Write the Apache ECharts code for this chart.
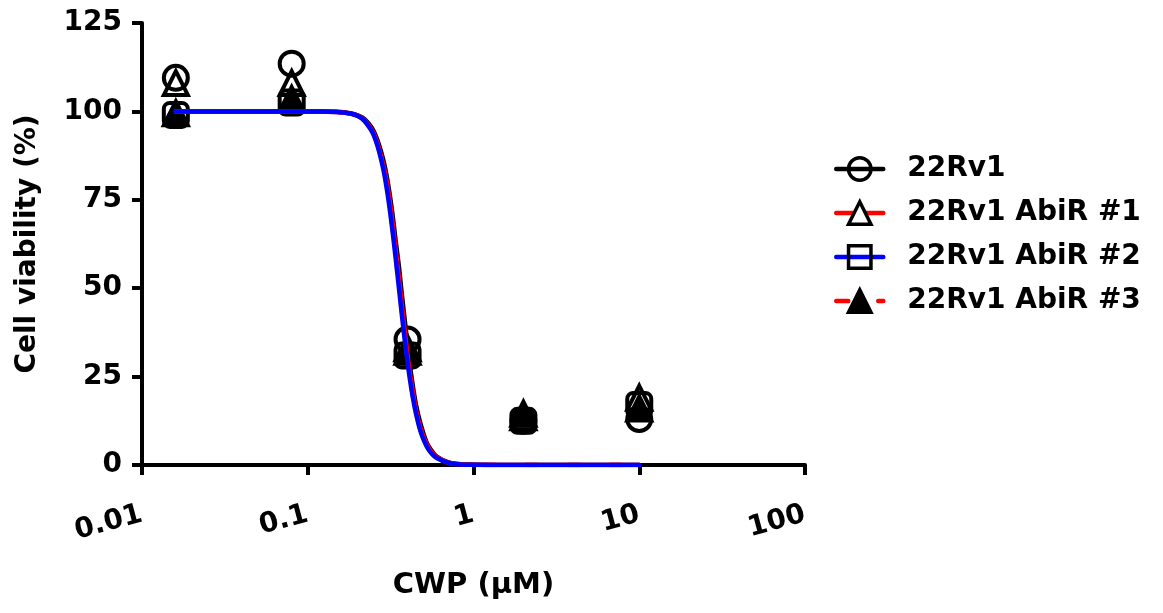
<!DOCTYPE html>
<html>
<head>
<meta charset="utf-8">
<script src="https://cdn.jsdelivr.net/npm/echarts@6/dist/echarts.min.js"></script>
<style>
  html, body { margin: 0; padding: 0; background: #fff; }
  #chart { width: 1163px; height: 613px; }
</style>
</head>
<body>
<div id="chart"></div>
<script>
// 浓度 (µM) 和各细胞株的测量点
const doseX = [0.016, 0.08, 0.4, 2, 10]
const pts22Rv1 = [109.5, 113.5, 35.5, 12.5, 13]
const ptsAbiR1 = [108, 108, 33, 13.5, 19]
const ptsAbiR2 = [99, 102.5, 31, 12.5, 17]
const ptsAbiR3 = [99.5, 103.5, 32, 14.5, 16]

// 拟合曲线（从图上读出的点）
const curveX = [0.016, 0.08, 0.12, 0.15, 0.18, 0.2, 0.22, 0.25, 0.28, 0.3, 0.32, 0.34, 0.355, 0.37, 0.39, 0.41, 0.43, 0.45, 0.48, 0.52, 0.56, 0.6, 0.7, 0.8, 1, 2, 10]
const fit22Rv1 = [100, 100, 100, 99.9, 99.5, 98.9, 97.8, 94.4, 87.8, 81.5, 73, 63, 56, 48, 38.5, 29.5, 22.5, 17, 11.5, 6.5, 4, 2.4, 0.8, 0.3, 0.1, 0, 0]
const fitAbiR1 = [100, 100, 100, 99.8, 99.4, 98.8, 97.5, 93.8, 86.5, 80, 71, 60.5, 53, 45, 35.5, 27, 21, 15.5, 10.3, 6, 3.6, 2.2, 0.7, 0.25, 0.05, 0, 0]
const fitAbiR2 = [100, 100, 100, 99.8, 99.4, 98.7, 97.3, 93.3, 85.5, 78, 68.5, 58, 50, 42.3, 33, 25.3, 19.2, 14.5, 9.4, 5.4, 3.2, 2, 0.65, 0.22, 0.04, 0, 0]
const fitAbiR3 = [100, 100, 100, 99.8, 99.4, 98.7, 97.4, 93.5, 86, 79, 69.5, 59, 51, 43.5, 34, 26, 20, 15, 9.8, 5.7, 3.4, 2.1, 0.7, 0.23, 0.05, 0, 0]

const xTickLabels = { 0.01: '0.01', 0.1: '0.1', 1: '1', 10: '10', 100: '100' }
const seriesNames = ['22Rv1', '22Rv1 AbiR #1', '22Rv1 AbiR #2', '22Rv1 AbiR #3']

const FONT = 'DejaVu Sans'
const chart = echarts.init(document.getElementById('chart'))

function pairs(xs, ys) {
  return xs.map((x, i) => [x, ys[i]])
}

function curve(name, ys, color, type, z, symbol, fill) {
  return {
    name: name,
    type: 'line',
    data: pairs(curveX, ys),
    smooth: 0.4,
    showSymbol: false,
    symbol: symbol,
    z: z,
    silent: true,
    lineStyle: { color: color, width: 4.5, type: type, cap: 'round', join: 'round' },
    itemStyle: { color: fill, borderColor: '#000', borderWidth: 3.5, opacity: 1 }
  }
}

function points(name, ys, symbol, fill) {
  return {
    name: name + ' pts',
    type: 'scatter',
    data: pairs(doseX, ys),
    symbol: symbol,
    symbolSize: 24,
    z: 2,
    itemStyle: { color: fill, borderColor: '#000', borderWidth: 4, opacity: 1 }
  }
}

const option = {
  animation: false,
  grid: { left: 142, right: 358, top: 23, bottom: 148, outerBoundsMode: 'none' },
  legend: {
    data: seriesNames,
    orient: 'vertical',
    left: 829,
    top: 150,
    itemWidth: 47,
    itemHeight: 28,
    itemGap: 16,
    lineStyle: { width: 4.5 },
    itemStyle: { borderWidth: 3.5 },
    textStyle: { fontFamily: FONT, fontWeight: 'bold', fontSize: 28, color: '#000', padding: [0, 0, 0, 19] }
  },
  xAxis: {
    type: 'log',
    logBase: 10,
    min: 0.01,
    max: 100,
    name: 'CWP (µM)',
    nameLocation: 'middle',
    nameGap: 106,
    nameTextStyle: { fontFamily: FONT, fontWeight: 'bold', fontSize: 29, color: '#000' },
    axisLine: { lineStyle: { color: '#000', width: 4 } },
    axisTick: { length: 10, lineStyle: { color: '#000', width: 4 } },
    axisLabel: {
      rotate: 15,
      margin: 49,
      fontFamily: FONT,
      fontWeight: 'bold',
      fontSize: 28,
      color: '#000',
      formatter: v => xTickLabels[v] || ''
    },
    splitLine: { show: false }
  },
  yAxis: {
    type: 'value',
    min: 0,
    max: 125,
    interval: 25,
    name: 'Cell viability (%)',
    nameLocation: 'middle',
    nameGap: 100,
    nameTextStyle: { fontFamily: FONT, fontWeight: 'bold', fontSize: 28, color: '#000' },
    axisLine: { show: true, lineStyle: { color: '#000', width: 4 } },
    axisTick: { show: true, length: 10, lineStyle: { color: '#000', width: 4 } },
    axisLabel: { margin: 20, fontFamily: FONT, fontWeight: 'bold', fontSize: 28, color: '#000' },
    splitLine: { show: false }
  },
  series: [
    curve(seriesNames[0], fit22Rv1, '#000', 'solid', 3, 'circle', 'rgba(0,0,0,0)'),
    curve(seriesNames[1], fitAbiR1, '#ff0000', 'solid', 5, 'triangle', '#fff'),
    curve(seriesNames[2], fitAbiR2, '#0000ff', 'solid', 6, 'rect', 'rgba(0,0,0,0)'),
    curve(seriesNames[3], fitAbiR3, '#ff0000', [12, 30], 4, 'triangle', '#000'),
    points(seriesNames[0], pts22Rv1, 'circle', 'rgba(0,0,0,0)'),
    points(seriesNames[1], ptsAbiR1, 'triangle', 'rgba(0,0,0,0)'),
    points(seriesNames[2], ptsAbiR2, 'roundRect', 'rgba(0,0,0,0)'),
    points(seriesNames[3], ptsAbiR3, 'triangle', '#000')
  ]
}

chart.setOption(option)
</script>
</body>
</html>
